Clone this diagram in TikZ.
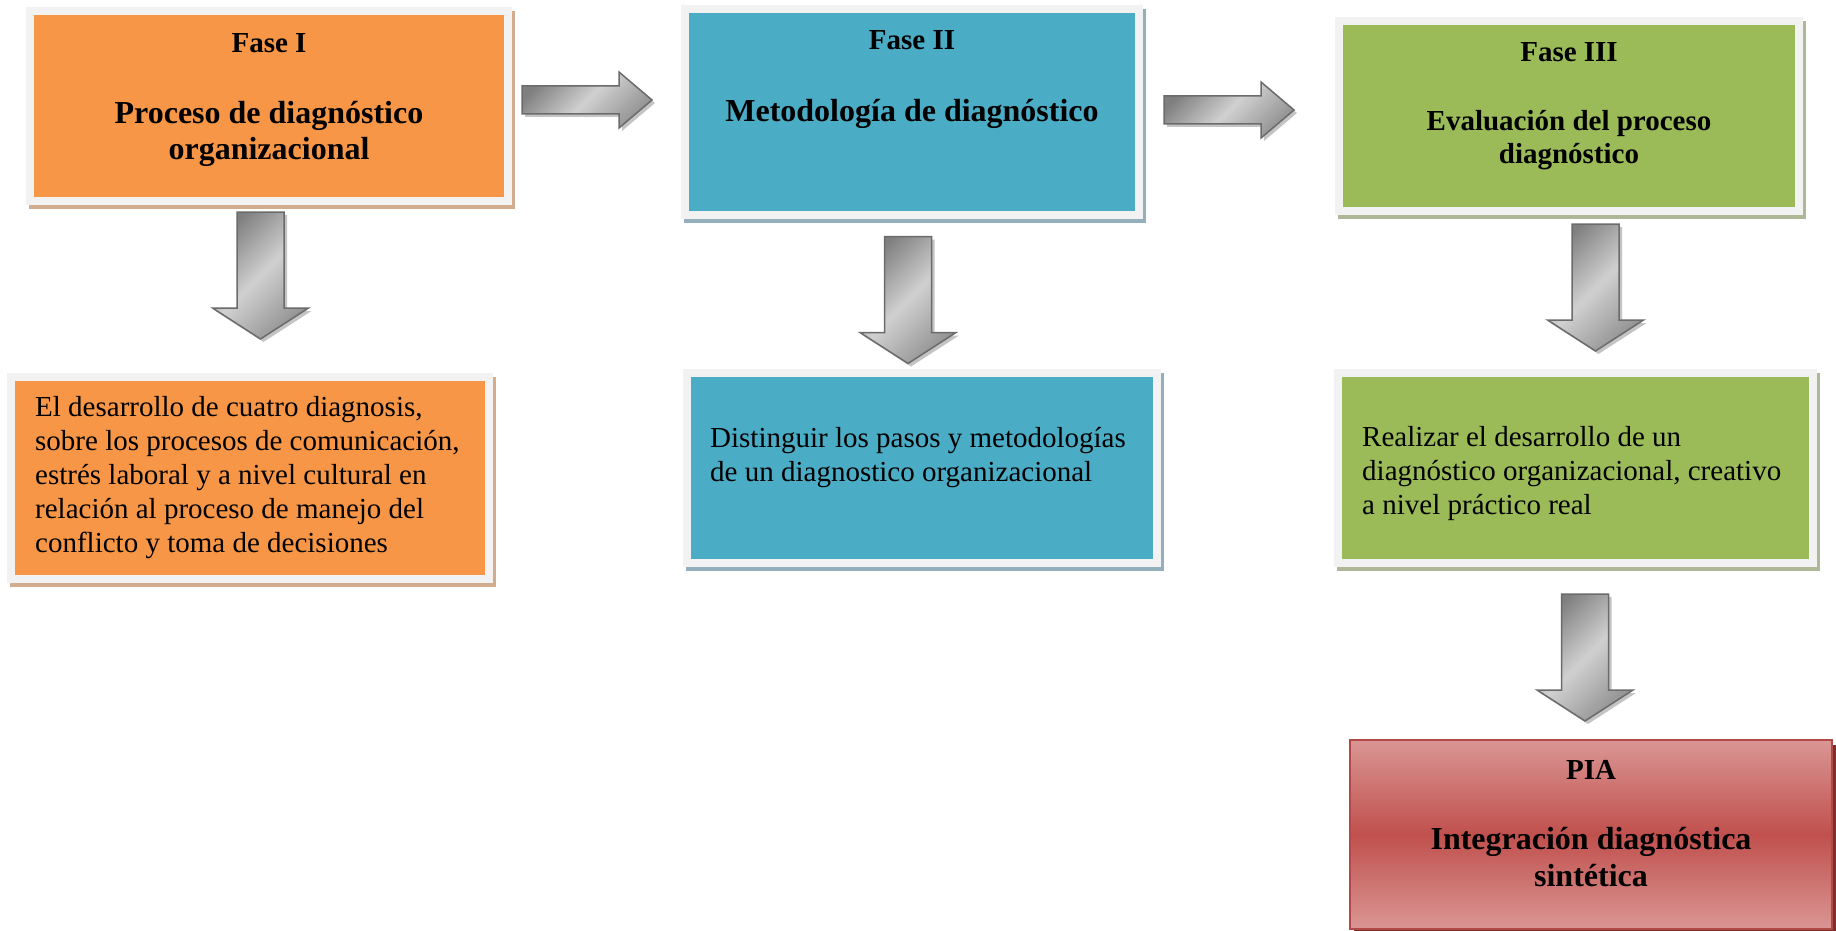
\documentclass[tikz,border=0pt]{standalone}
\usepackage{fontspec}
\setmainfont{Liberation Serif}
\usepackage{tikz}

\definecolor{naranja}{HTML}{F79646}
\definecolor{azul}{HTML}{4BACC6}
\definecolor{verde}{HTML}{9BBB59}
\definecolor{rojo}{HTML}{C0504D}
\definecolor{rosa}{HTML}{DA9694}
\definecolor{marco}{HTML}{F2F2F2}
\definecolor{sombraN}{HTML}{D2AC8C}
\definecolor{sombraA}{HTML}{93AFBC}
\definecolor{sombraV}{HTML}{AEB796}
\definecolor{sombraR}{HTML}{7E2F2D}
\definecolor{flechaOsc}{HTML}{7F7F7F}
\definecolor{flechaClara}{HTML}{D0D0D0}
\definecolor{flechaBorde}{HTML}{6B6B6B}
\definecolor{flechaSombra}{HTML}{C4C4C4}

% block arrows, drawn from a named point
\newcommand{\flechaDer}[1]{(#1) ++(0,-14) -- ++(97,0) -- ++(0,-14) -- ++(33,28) -- ++(-33,28) -- ++(0,-14) -- ++(-97,0) -- cycle}
\newcommand{\flechaAbj}[1]{(#1) ++(-23.5,0) -- ++(47,0) -- ++(0,96) -- ++(24.5,0) -- ++(-48,31) -- ++(-48,-31) -- ++(24.5,0) -- cycle}

\begin{document}
\begin{tikzpicture}[x=1pt,y=1pt,yscale=-1,xscale=1,
  caja/.style={rectangle, inner sep=0pt, outer sep=0pt, draw=marco, line width=8pt, fill=#1},
  etiqueta/.style={font=\fontsize{29}{33.5}\selectfont\bfseries, inner sep=0pt, align=center},
  titulo/.style={font=\fontsize{32}{36.5}\selectfont\bfseries, inner sep=0pt, align=center},
  cuerpo/.style={font=\fontsize{29}{34}\selectfont, inner sep=0pt, align=left, anchor=west},
  flecha/.style={draw=flechaBorde, line width=1.5pt, line join=miter, left color=flechaOsc, right color=flechaOsc!85!white, middle color=flechaClara, shading angle=45},
  sombraFlecha/.style={fill=flechaSombra}]
%set diagram left start at 0, and has height of 931
\fill[white] (0,0) rectangle (1836,931);
\useasboundingbox (0,0) rectangle (1836,931);

%Shape: Rectangle [id:faseI]
\fill[sombraN] (28.5,11) rectangle (515,209);
\node[caja=naranja, minimum width=478.5, minimum height=190] (faseI) at (268.75,106) {};
%Shape: Rectangle [id:faseII]
\fill[sombraA] (683.5,8.7) rectangle (1146,222.7);
\node[caja=azul, minimum width=454.5, minimum height=206] (faseII) at (911.75,111.7) {};
%Shape: Rectangle [id:faseIII]
\fill[sombraV] (1337.5,21) rectangle (1806,219);
\node[caja=verde, minimum width=460.5, minimum height=190] (faseIII) at (1568.75,116) {};
%Shape: Rectangle [id:objI]
\fill[sombraN] (10,377) rectangle (496,587);
\node[caja=naranja, minimum width=478, minimum height=202] (objI) at (250,478) {};
%Shape: Rectangle [id:objII]
\fill[sombraA] (685.5,373) rectangle (1163.5,571);
\node[caja=azul, minimum width=470, minimum height=190] (objII) at (921.5,468) {};
%Shape: Rectangle [id:objIII]
\fill[sombraV] (1337,373) rectangle (1819.5,571);
\node[caja=verde, minimum width=474.5, minimum height=190] (objIII) at (1575.25,468) {};
%Shape: Rectangle [id:pia]
\fill[sombraR] (1354,745) rectangle (1836,935);
\node[rectangle, draw=rojo!92!black, line width=2.5pt, top color=rosa, bottom color=rosa, middle color=rojo, minimum width=482, minimum height=189] (pia) at (1591,834.5) {};

%Shape: Right Arrow [id:r1]
\coordinate (r1) at (522,100); \coordinate (r1s) at (525,103);
\fill[sombraFlecha] \flechaDer{r1s}; \draw[flecha] \flechaDer{r1};
%Shape: Right Arrow [id:r2]
\coordinate (r2) at (1164,110); \coordinate (r2s) at (1167,113);
\fill[sombraFlecha] \flechaDer{r2s}; \draw[flecha] \flechaDer{r2};
%Shape: Down Arrow [id:d1]
\coordinate (d1) at (260.5,212); \coordinate (d1s) at (263.5,215);
\fill[sombraFlecha] \flechaAbj{d1s}; \draw[flecha] \flechaAbj{d1};
%Shape: Down Arrow [id:d2]
\coordinate (d2) at (908,236.5); \coordinate (d2s) at (911,239.5);
\fill[sombraFlecha] \flechaAbj{d2s}; \draw[flecha] \flechaAbj{d2};
%Shape: Down Arrow [id:d3]
\coordinate (d3) at (1595.5,224); \coordinate (d3s) at (1598.5,227);
\fill[sombraFlecha] \flechaAbj{d3s}; \draw[flecha] \flechaAbj{d3};
%Shape: Down Arrow [id:d4]
\coordinate (d4) at (1585,594); \coordinate (d4s) at (1588,597);
\fill[sombraFlecha] \flechaAbj{d4s}; \draw[flecha] \flechaAbj{d4};

% Text Node
\node[etiqueta] (lblI) at (269,43) {Fase I};
% Text Node
\node[titulo] (titI) at (269,134) {Proceso de diagnóstico\\organizacional};
% Text Node
\node[etiqueta] (lblII) at (912,40) {Fase II};
% Text Node
\node[titulo] (titII) at (912,114) {Metodología de diagnóstico};
% Text Node
\node[etiqueta] (lblIII) at (1569,52) {Fase III};
% Text Node
\node[etiqueta] (titIII) at (1569,140) {Evaluación del proceso\\diagnóstico};
% Text Node
\node[etiqueta] (lblPIA) at (1591,770) {PIA};
% Text Node
\node[titulo] (titPIA) at (1591,857) {Integración diagnóstica\\sintética};
% Text Node
\node[cuerpo] (txtI) at (35,478) {El desarrollo de cuatro diagnosis,\\sobre los procesos de comunicación,\\estrés laboral y a nivel cultural en\\relación al proceso de manejo del\\conflicto y toma de decisiones};
% Text Node
\node[cuerpo] (txtII) at (710,457.5) {Distinguir los pasos y metodologías\\de un diagnostico organizacional};
% Text Node
\node[cuerpo] (txtIII) at (1362,473.5) {Realizar el desarrollo de un\\diagnóstico organizacional, creativo\\a nivel práctico real};

\end{tikzpicture}
\end{document}
